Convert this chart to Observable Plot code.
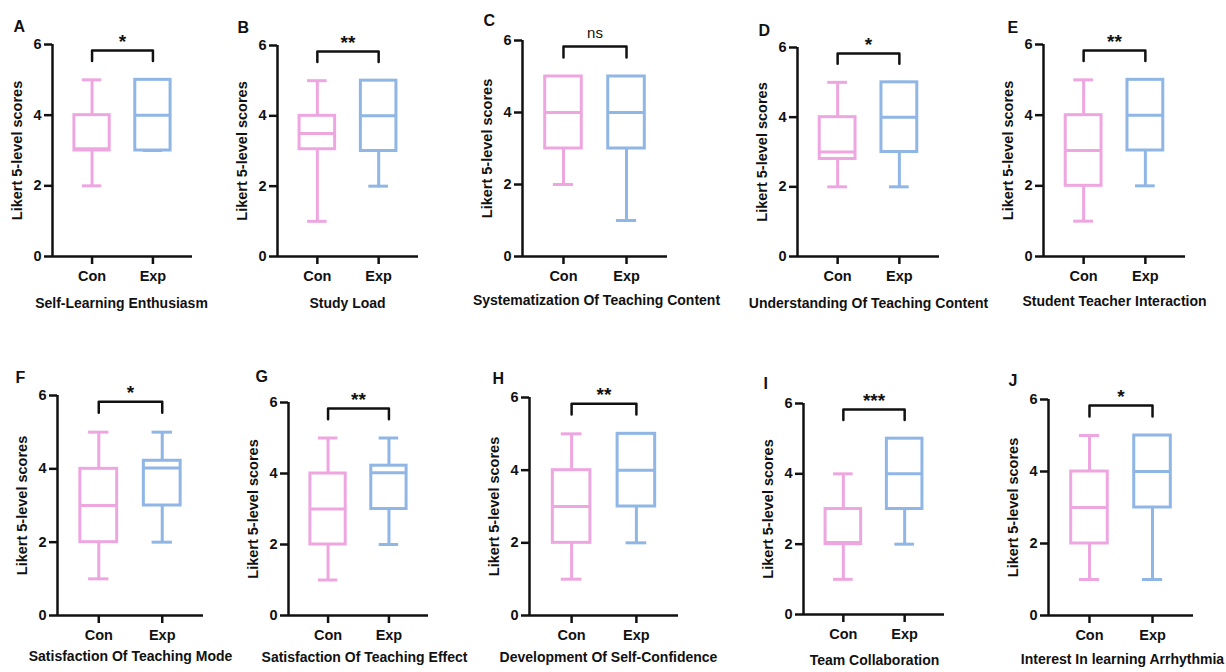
<!DOCTYPE html>
<html>
<head>
<meta charset="utf-8">
<script src="https://cdn.jsdelivr.net/npm/d3@7"></script>
<script src="https://cdn.jsdelivr.net/npm/@observablehq/plot@0.6"></script>
<style>
  html, body { margin: 0; padding: 0; background: #fff; overflow: hidden; }
  #fig { position: relative; width: 1226px; height: 672px; overflow: hidden; background: #fff; }
  #fig svg { position: absolute; overflow: visible; background: transparent; max-width: none; }
</style>
</head>
<body>
<div id="fig"></div>
<script>
// ---------- data ----------
const letters = ["A", "B", "C", "D", "E", "F", "G", "H", "I", "J"];
const titles = [
  "Self-Learning Enthusiasm", "Study Load", "Systematization Of Teaching Content",
  "Understanding Of Teaching Content", "Student Teacher Interaction",
  "Satisfaction Of Teaching Mode", "Satisfaction Of Teaching Effect",
  "Development Of Self-Confidence", "Team Collaboration", "Interest In learning Arrhythmia"
];
const significance = ["*", "**", "ns", "*", "**", "*", "**", "**", "***", "*"];
const groups = ["Con", "Exp"];
const yTicks = [0, 2, 4, 6];
const yLabel = "Likert 5-level scores";

const conMin = [2, 1, 2, 2, 1, 1, 1, 1, 1, 1];
const conQ1  = [3, 3.05, 3, 2.8, 2, 2, 2, 2, 2, 2];
const conMed = [3.05, 3.5, 4, 3, 3, 3, 3, 3, 2.05, 3];
const conQ3  = [4, 4, 5, 4, 4, 4, 4, 4, 3, 4];
const conMax = [5, 5, 5, 5, 5, 5, 5, 5, 4, 5];

const expMin = [3, 2, 1, 2, 2, 2, 2, 2, 2, 1];
const expQ1  = [3, 3, 3, 3, 3, 3, 3, 3, 3, 3];
const expMed = [4, 4, 4, 4, 4, 4.02, 4.02, 4, 4, 4];
const expQ3  = [5, 5, 5, 5, 5, 4.22, 4.22, 5, 5, 5];
const expMax = [5, 5, 5, 5, 5, 5, 5, 5, 5, 5];

// ---------- layout (pixels on the page) ----------
// [axis x, y of 6, y of 0, axis end x]
const frames = [
  [52, 44, 256, 192], [277, 45, 256, 418], [522, 40, 256, 667], [797, 47, 256, 939], [1043, 44, 256, 1185],
  [57, 395, 615, 203], [288, 402, 615, 428], [529, 397, 615, 678], [803, 403, 614, 944], [1048, 399, 615, 1193]
];
const letterX = [13, 237, 483, 758, 1007, 15, 255, 492, 763, 1008];
const letterY = [26.5, 27, 20.5, 30, 27, 377.5, 376, 378, 383, 380];
const titleX  = [121, 347, 596, 868, 1114, 130, 364, 608, 874, 1122];
const titleY  = [303, 303, 300, 303, 301, 656, 657, 657, 660, 659];

const colors = ["#EEA6E0", "#8FB6E4"];
const ink = "#111";
const fontFamily = "'Liberation Sans', Arial, Helvetica, sans-serif";
const boxHalf = 0.29, capHalf = 0.16;
const brLow = 5.53, brHigh = 5.83;
const xAxisAt = 0.35, xEnd = 2.65, yMin = 0, yMax = 6;
const ml = 45, mr = 20, mt = 45, mb = 60;
const baseStyle = {
  fontFamily, fontSize: "14.5px", fontWeight: "bold", color: ink,
  background: "transparent", overflow: "visible"
};

const fig = document.getElementById("fig");
const overlays = [];

function place(svg, ax, y6) {
  svg.style.position = "absolute";
  svg.style.left = (ax - ml) + "px";
  svg.style.top = (y6 - mt) + "px";
  return svg;
}

for (let i = 0; i < 10; i++) {
  const [ax, y6, y0, xe] = frames[i];
  const fw = xe - ax, fh = y0 - y6;
  const dims = {
    width: ml + fw + mr, height: mt + fh + mb,
    marginLeft: ml, marginRight: mr, marginTop: mt, marginBottom: mb
  };
  const stats = [
    {g: groups[0], pos: 1, min: conMin[i], q1: conQ1[i], med: conMed[i], q3: conQ3[i], max: conMax[i]},
    {g: groups[1], pos: 2, min: expMin[i], q1: expQ1[i], med: expMed[i], q3: expQ3[i], max: expMax[i]}
  ];
  const bracket = [{x: 1, y: brLow}, {x: 1, y: brHigh}, {x: 2, y: brHigh}, {x: 2, y: brLow}];
  const isNs = significance[i] === "ns";

  // layer 1: boxes, bracket and texts
  const chart = Plot.plot({
    ...dims,
    x: {domain: [xAxisAt, xEnd], axis: null},
    y: {domain: [yMin, yMax], axis: null},
    color: {domain: groups, range: colors},
    style: baseStyle,
    marks: [
      Plot.ruleX(stats, {x: "pos", y1: "min", y2: "q1", stroke: "g", strokeWidth: 3}),
      Plot.ruleX(stats, {x: "pos", y1: "q3", y2: "max", stroke: "g", strokeWidth: 3}),
      Plot.ruleY(stats, {y: "min", x1: d => d.pos - capHalf, x2: d => d.pos + capHalf, stroke: "g", strokeWidth: 3}),
      Plot.ruleY(stats, {y: "max", x1: d => d.pos - capHalf, x2: d => d.pos + capHalf, stroke: "g", strokeWidth: 3}),
      Plot.rect(stats, {x1: d => d.pos - boxHalf, x2: d => d.pos + boxHalf, y1: "q1", y2: "q3",
        fill: "white", stroke: "g", strokeWidth: 3}),
      Plot.ruleY(stats, {y: "med", x1: d => d.pos - boxHalf, x2: d => d.pos + boxHalf, stroke: "g", strokeWidth: 3}),
      Plot.line(bracket, {x: "x", y: "y", stroke: ink, strokeWidth: 2.5}),
      Plot.text([significance[i]], {
        x: () => 1.5, y: () => (isNs ? 6.2 : 6.07),
        fontSize: isNs ? 15 : 19, fontWeight: isNs ? "normal" : "bold", fill: ink
      }),
      Plot.text([yLabel], {frameAnchor: "left", dx: -35, rotate: -90, textAnchor: "middle",
        lineAnchor: "middle", fill: ink}),
      Plot.text([letters[i]], {frameAnchor: "top-left", dx: letterX[i] - ax, dy: letterY[i] - y6,
        textAnchor: "start", lineAnchor: "middle", fontSize: 16, fill: ink}),
      Plot.text([titles[i]], {frameAnchor: "top-left", dx: titleX[i] - ax, dy: titleY[i] - y6,
        textAnchor: "middle", lineAnchor: "middle", fontSize: 14, fill: ink})
    ]
  });
  fig.appendChild(place(chart, ax, y6));

  // layer 2 (on top): axis lines, ticks and tick labels
  const axes = Plot.plot({
    ...dims,
    x: {domain: [xAxisAt, xEnd]},
    y: {domain: [yMin, yMax]},
    style: baseStyle,
    marks: [
      Plot.ruleY([yMin], {stroke: ink, strokeWidth: 2.5}),
      Plot.ruleX([xAxisAt], {stroke: ink, strokeWidth: 2.5}),
      Plot.axisX({ticks: [1, 2], tickFormat: d => groups[d - 1], tickSize: 8, tickPadding: 6,
        stroke: ink, strokeWidth: 2.5, label: null}),
      Plot.axisY({ticks: yTicks, tickFormat: d => String(d), tickSize: 8, tickPadding: 3,
        stroke: ink, strokeWidth: 2.5, label: null})
    ]
  });
  overlays.push(place(axes, ax, y6));
}
overlays.forEach(svg => fig.appendChild(svg));
</script>
</body>
</html>
